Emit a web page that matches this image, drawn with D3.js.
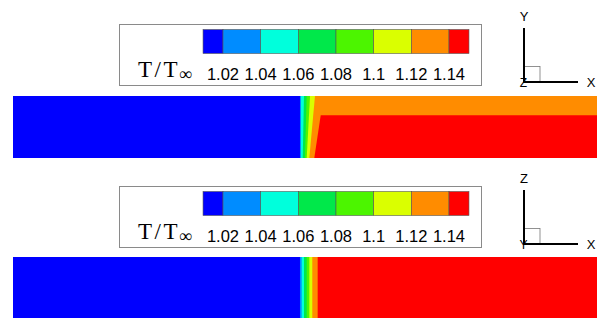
<!DOCTYPE html>
<html>
<head>
<meta charset="utf-8">
<script src="https://cdn.jsdelivr.net/npm/d3@7"></script>
<style>
  body { margin: 0; background: #fff; }
  svg { display: block; }
</style>
</head>
<body>
<div id="chart"></div>
<script>
// contour levels of T/Tinf and their labels
var levels = [1.02, 1.04, 1.06, 1.08, 1.1, 1.12, 1.14];
var levelLabels = ["1.02", "1.04", "1.06", "1.08", "1.1", "1.12", "1.14"];
// fill colour of each band (below 1.02 ... above 1.14)
var bandColors = ["#0000ff", "#008cff", "#00ffdc", "#00e84a", "#4cf500", "#daff00", "#ff8c00", "#ff0000"];

// front of each level: [x at top edge, x at bottom edge, y where the front starts]
// x in % of the shown length, y as fraction of the slab height
var frontsXY = [
    [49.14, 49.14, 0],
    [49.32, 49.32, 0],
    [49.83, 49.61, 0],
    [50.29, 50.00, 0],
    [50.86, 50.29, 0],
    [51.71, 50.74, 0],
    [52.69, 51.59, 0.31]
];
var frontsXZ = [
    [49.14, 49.14, 0],
    [49.43, 49.43, 0],
    [49.83, 49.83, 0],
    [50.29, 50.29, 0],
    [50.74, 50.74, 0],
    [51.25, 51.25, 0],
    [52.17, 52.17, 0]
];

var panels = [
    { top: 0,   slabTop: 96,  fronts: frontsXY, up: "Y", depth: "Z" },
    { top: 162, slabTop: 257, fronts: frontsXZ, up: "Z", depth: "Y" }
];

var width = 597, height = 318;

var svg = d3.select("#chart").append("svg")
    .attr("width", width)
    .attr("height", height);

var x = d3.scaleLinear().domain([0, 100]).range([13, 597]);
var cb = d3.scaleLinear().domain([1.02, 1.14]).range([223, 449]);
var pad = 0.0106;

panels.forEach(function (p) {
    var y = d3.scaleLinear().domain([0, 1]).range([p.slabTop, p.slabTop + 62]);

    // slab contour field
    var field = svg.append("g").attr("class", "field");
    field.append("rect")
        .attr("x", x(0))
        .attr("y", y(0))
        .attr("width", x(100) - x(0))
        .attr("height", y(1) - y(0))
        .attr("fill", bandColors[0]);

    field.selectAll("path.front")
        .data(p.fronts)
        .enter().append("path")
        .attr("class", "front")
        .attr("fill", function (d, i) { return bandColors[i + 1]; })
        .attr("d", function (d) {
            return d3.line()([
                [x(d[0]), y(d[2])],
                [x(d[1]), y(1)],
                [x(100), y(1)],
                [x(100), y(d[2])]
            ]) + "Z";
        });

    // legend
    var leg = svg.append("g").attr("transform", "translate(0," + p.top + ")");
    leg.append("rect")
        .attr("x", 119.5)
        .attr("y", 24.5)
        .attr("width", 362)
        .attr("height", 61)
        .attr("fill", "#fff")
        .attr("stroke", "#8a8a8a")
        .attr("stroke-width", 1);

    var bands = d3.range(bandColors.length).map(function (i) {
        var lo = i === 0 ? levels[0] - pad : levels[i - 1];
        var hi = i === levels.length ? levels[levels.length - 1] + pad : levels[i];
        return { lo: lo, hi: hi, color: bandColors[i] };
    });

    leg.selectAll("rect.swatch")
        .data(bands)
        .enter().append("rect")
        .attr("class", "swatch")
        .attr("x", function (d) { return cb(d.lo); })
        .attr("y", 29.5)
        .attr("width", function (d) { return cb(d.hi) - cb(d.lo); })
        .attr("height", 24)
        .attr("fill", function (d) { return d.color; })
        .attr("stroke", "#555")
        .attr("stroke-width", 0.6);

    leg.selectAll("text.tick")
        .data(levels)
        .enter().append("text")
        .attr("class", "tick")
        .attr("x", function (d) { return cb(d); })
        .attr("y", 80)
        .attr("text-anchor", "middle")
        .attr("font-family", "Liberation Sans, Arial, sans-serif")
        .attr("font-size", 16.5)
        .attr("fill", "#000")
        .text(function (d, i) { return levelLabels[i]; });

    var title = leg.append("text")
        .attr("x", 138)
        .attr("y", 77)
        .attr("font-family", "Liberation Serif, DejaVu Serif, serif")
        .attr("font-size", 23)
        .attr("letter-spacing", 2.5)
        .attr("fill", "#000");
    title.append("tspan").text("T/T");
    title.append("tspan")
        .attr("font-size", 18)
        .attr("dx", -1)
        .attr("dy", 3)
        .attr("letter-spacing", 0)
        .text("\u221e");

    // axis triad
    var tri = svg.append("g").attr("transform", "translate(0," + p.top + ")");
    tri.append("rect")
        .attr("x", 524)
        .attr("y", 66.5)
        .attr("width", 16)
        .attr("height", 15.5)
        .attr("fill", "none")
        .attr("stroke", "#777")
        .attr("stroke-width", 0.8);
    tri.append("text")
        .attr("x", 523.5)
        .attr("y", 87)
        .attr("text-anchor", "middle")
        .attr("font-family", "Liberation Sans, Arial, sans-serif")
        .attr("font-size", 12)
        .text(p.depth);
    tri.append("path")
        .attr("d", "M524,28V82H578")
        .attr("fill", "none")
        .attr("stroke", "#000")
        .attr("stroke-width", 2);
    tri.append("text")
        .attr("x", 524)
        .attr("y", 21)
        .attr("text-anchor", "middle")
        .attr("font-family", "Liberation Sans, Arial, sans-serif")
        .attr("font-size", 13)
        .text(p.up);
    tri.append("text")
        .attr("x", 591)
        .attr("y", 87)
        .attr("text-anchor", "middle")
        .attr("font-family", "Liberation Sans, Arial, sans-serif")
        .attr("font-size", 13)
        .text("X");
});
</script>
</body>
</html>
